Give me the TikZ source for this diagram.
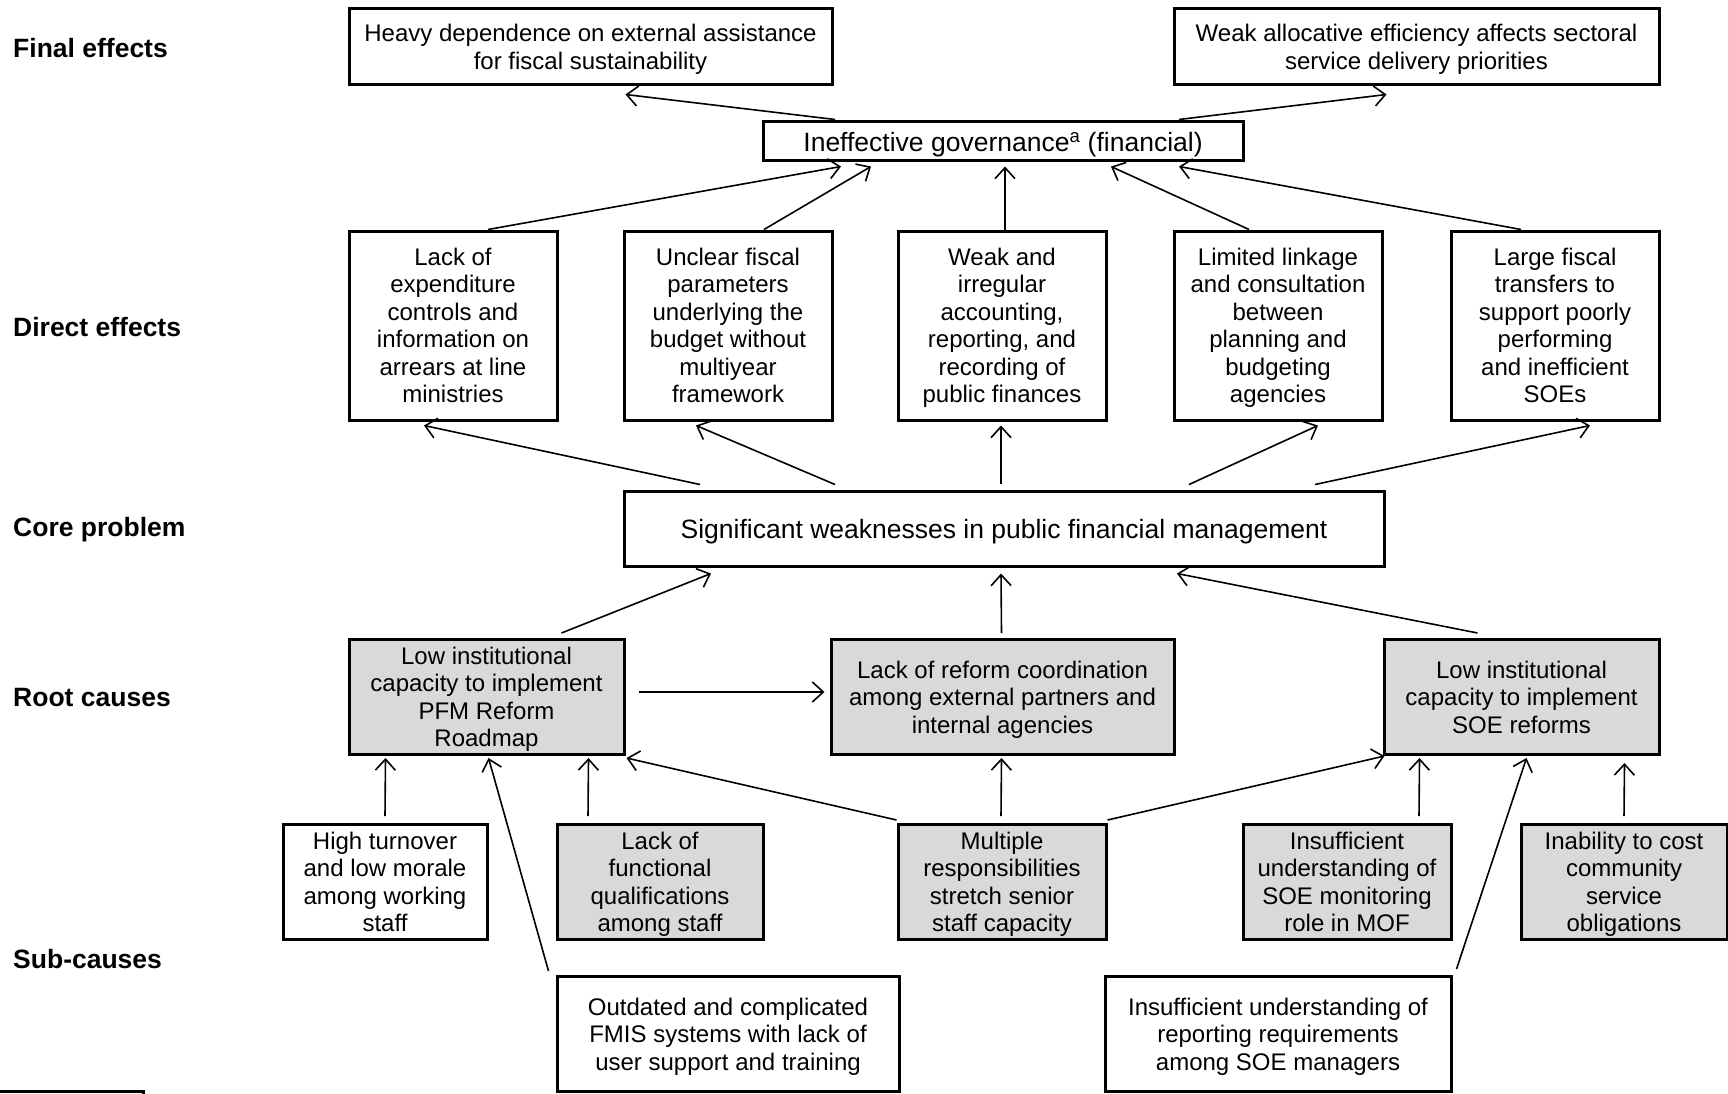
\documentclass[tikz,border=0pt]{standalone}
\usepackage{fontspec}
\setmainfont{Liberation Sans}
\usetikzlibrary{arrows.meta}
\definecolor{boxgray}{HTML}{D9D9D9}
\begin{document}
\begin{tikzpicture}[x=1pt,y=-1pt,
 box/.style={draw, line width=3pt, fill=white, align=center, inner sep=0pt, font=\fontsize{24}{27.5}\selectfont, text depth=-2pt},
 gbox/.style={box, fill=boxgray},
 bigtext/.style={font=\fontsize{26.5}{30}\selectfont},
 arr/.style={line width=1.6pt, -{Straight Barb[length=11pt,width=20pt,line width=1.6pt]}},
 lab/.style={anchor=west, font=\bfseries\fontsize{26.5}{30}\selectfont, inner sep=0pt}]
\useasboundingbox[fill=white] (0,0) rectangle (1728,1094);

% level labels
\node[lab] (l1) at (13,48.5) {Final effects};
\node[lab] (l2) at (13,327) {Direct effects};
\node[lab] (l3) at (13,530) {Core problem};
\node[lab] (l4) at (13,697.5) {Root causes};
\node[lab] (l5) at (13,959) {Sub-causes};

% final effects
\node[box, minimum width=483pt, minimum height=76pt] (heavy) at (590.5,47) {Heavy dependence on external assistance\\for fiscal sustainability};
\node[box, minimum width=485pt, minimum height=76pt] (weak) at (1416.5,47) {Weak allocative efficiency affects sectoral\\service delivery priorities};
\node[box, bigtext, minimum width=480pt, minimum height=39pt] (ineff) at (1003,141.5) {Ineffective governance\textsuperscript{a} (financial)};

% direct effects
\node[box, minimum width=208pt, minimum height=189pt] (d1) at (453,325.5) {Lack of\\expenditure\\controls and\\information on\\arrears at line\\ministries};
\node[box, minimum width=208pt, minimum height=189pt] (d2) at (728,325.5) {Unclear fiscal\\parameters\\underlying the\\budget without\\multiyear\\framework};
\node[box, minimum width=208pt, minimum height=189pt] (d3) at (1002,325.5) {Weak and\\irregular\\accounting,\\reporting, and\\recording of\\public finances};
\node[box, minimum width=208pt, minimum height=189pt] (d4) at (1278,325.5) {Limited linkage\\and consultation\\between\\planning and\\budgeting\\agencies};
\node[box, minimum width=208pt, minimum height=189pt] (d5) at (1555,325.5) {Large fiscal\\transfers to\\support poorly\\performing\\and inefficient\\SOEs};

% core
\node[box, bigtext, minimum width=760pt, minimum height=75pt] (core) at (1004,528.5) {Significant weaknesses in public financial management};

% root causes
\node[gbox, minimum width=275pt, minimum height=115pt] (r1) at (486.5,697) {Low institutional\\capacity to implement\\PFM Reform\\Roadmap};
\node[gbox, minimum width=343pt, minimum height=115pt] (r2) at (1002.5,697) {Lack of reform coordination\\among external partners and\\internal agencies};
\node[gbox, minimum width=275pt, minimum height=115pt] (r3) at (1521.5,697) {Low institutional\\capacity to implement\\SOE reforms};

% sub-causes
\node[box, minimum width=204pt, minimum height=115pt] (s1) at (385,882) {High turnover\\and low morale\\among working\\staff};
\node[gbox, minimum width=206pt, minimum height=115pt] (s2) at (660,882) {Lack of\\functional\\qualifications\\among staff};
\node[gbox, minimum width=208pt, minimum height=115pt] (s3) at (1002,882) {Multiple\\responsibilities\\stretch senior\\staff capacity};
\node[gbox, minimum width=208pt, minimum height=115pt] (s4) at (1347,882) {Insufficient\\understanding of\\SOE monitoring\\role in MOF};
\node[gbox, minimum width=206pt, minimum height=115pt] (s5) at (1624,882) {Inability to cost\\community\\service\\obligations};
\node[box, minimum width=342pt, minimum height=115pt] (s6) at (728,1034) {Outdated and complicated\\FMIS systems with lack of\\user support and training};
\node[box, minimum width=346pt, minimum height=115pt] (s7) at (1278,1034) {Insufficient understanding of\\reporting requirements\\among SOE managers};

% partial box at bottom left
\draw[line width=3pt, fill=white] (-10,1091) -- (143,1091) -- (143,1130);

% arrows to final effects
\draw[arr] ([xshift=-168pt,yshift=1pt]ineff.north) -- ([xshift=35pt,yshift=-8pt]heavy.south);
\draw[arr] ([xshift=176pt,yshift=1pt]ineff.north) -- ([xshift=-30pt,yshift=-8pt]weak.south);

% direct effects to governance
\draw[arr] ([xshift=35pt]d1.north) -- ([xshift=-162pt,yshift=-4pt]ineff.south);
\draw[arr] ([xshift=36pt]d2.north) -- ([xshift=-132pt,yshift=-4pt]ineff.south);
\draw[arr] ([xshift=3pt]d3.north) -- ([xshift=2pt,yshift=-4pt]ineff.south);
\draw[arr] ([xshift=-29pt]d4.north) -- ([xshift=108pt,yshift=-4pt]ineff.south);
\draw[arr] ([xshift=-34pt]d5.north) -- ([xshift=176pt,yshift=-4pt]ineff.south);

% core to direct effects
\draw[arr] ([xshift=-304pt,yshift=5pt]core.north) -- ([xshift=-29pt,yshift=-4pt]d1.south);
\draw[arr] ([xshift=-169pt,yshift=5pt]core.north) -- ([xshift=-32pt,yshift=-4pt]d2.south);
\draw[arr] ([xshift=-3pt,yshift=6pt]core.north) -- ([xshift=-1pt,yshift=-4pt]d3.south);
\draw[arr] ([xshift=185pt,yshift=5pt]core.north) -- ([xshift=40pt,yshift=-4pt]d4.south);
\draw[arr] ([xshift=311pt,yshift=5pt]core.north) -- ([xshift=35pt,yshift=-4pt]d5.south);

% root causes to core
\draw[arr] ([xshift=75pt,yshift=5pt]r1.north) -- ([xshift=-293pt,yshift=-6pt]core.south);
\draw[arr] ([xshift=-1pt,yshift=5pt]r2.north) -- ([xshift=-3pt,yshift=-6pt]core.south);
\draw[arr] ([xshift=-44pt,yshift=5pt]r3.north) -- ([xshift=173pt,yshift=-6pt]core.south);
\draw[arr] ([xshift=13pt,yshift=5pt]r1.east) -- ([xshift=-5pt,yshift=5pt]r2.west);

% sub-causes to root causes
\draw[arr] ([yshift=7pt]s1.north) -- ([xshift=-101pt,yshift=-2pt]r1.south);
\draw[arr] ([xshift=-7pt,yshift=4pt]s6.north west) -- ([xshift=2pt,yshift=-2pt]r1.south);
\draw[arr] ([xshift=-72pt,yshift=7pt]s2.north) -- ([xshift=102pt,yshift=-2pt]r1.south);
\draw[arr] ([yshift=3pt]s3.north west) -- ([xshift=1pt,yshift=-2pt]r1.south east);
\draw[arr] ([xshift=-1pt,yshift=7pt]s3.north) -- ([xshift=-1pt,yshift=-2pt]r2.south);
\draw[arr] ([yshift=3pt]s3.north east) -- ([xshift=2pt,yshift=0pt]r3.south west);
\draw[arr] ([xshift=72pt,yshift=7pt]s4.north) -- ([xshift=-102pt,yshift=-2pt]r3.south);
\draw[arr] ([xshift=4pt,yshift=6pt]s7.north east) -- ([xshift=5pt,yshift=-2pt]r3.south);
\draw[arr] ([yshift=7pt]s5.north) -- ([xshift=103pt,yshift=-7pt]r3.south);
\end{tikzpicture}
\end{document}
